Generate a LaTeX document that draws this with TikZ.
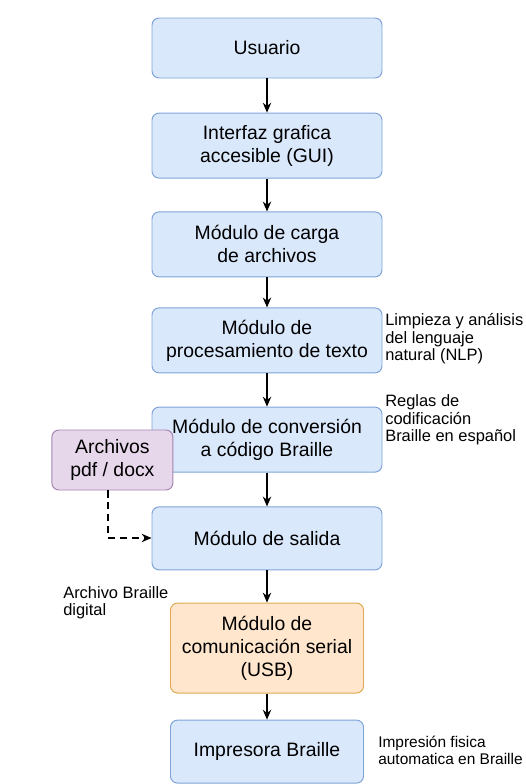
\documentclass[tikz,border=0pt]{standalone}
\usepackage{fontspec}
\setmainfont{Liberation Sans}
\definecolor{bloque}{HTML}{DAE8FC}
\definecolor{bloqueborde}{HTML}{7FA3D6}
\definecolor{naranja}{HTML}{FFE6CC}
\definecolor{naranjaborde}{HTML}{E0AA50}
\definecolor{lila}{HTML}{E6D7EA}
\definecolor{lilaborde}{HTML}{A584B3}
\usetikzlibrary{shapes, arrows.meta, positioning, calc}

\begin{document}
\begin{tikzpicture}[
		mod/.style={rectangle, rounded corners=5pt, draw=bloqueborde, fill=bloque,
			minimum width=5.75cm, minimum height=1.625cm, line width=0.7pt,
			align=center, font=\fontsize{13.8}{16.4}\selectfont},
		modb/.style={mod, minimum width=4.825cm},
		usb/.style={modb, draw=naranjaborde, fill=naranja},
		arch/.style={mod, draw=lilaborde, fill=lila, minimum width=3.025cm, minimum height=1.5cm},
		nota/.style={align=left, anchor=west, inner sep=0pt, font=\fontsize{11.7}{12.4}\selectfont},
		flecha/.style={-{Stealth[length=7pt, width=6pt]}, line width=0.75pt, black},
		punteada/.style={flecha, line width=0.85pt, dash pattern=on 5pt off 3.5pt}
		]
		\useasboundingbox (0,0) rectangle (13.125,-19.6);
		
		% Bloques
		\node[mod, minimum height=1.5cm] (usuario) at (6.675, -1.2)   {Usuario};
		\node[mod] (gui)      at (6.675, -3.64)  {Interfaz grafica\\accesible (GUI)};
		\node[mod] (carga)    at (6.675, -6.11)  {Módulo de carga\\de archivos};
		\node[mod] (proc)     at (6.675, -8.51)  {Módulo de\\procesamiento de texto};
		\node[mod] (conv)     at (6.675, -10.99) {Módulo de conversión\\a código Braille};
		\node[mod, minimum height=1.575cm] (salida) at (6.675, -13.46) {Módulo de salida};
		\node[usb, minimum height=2.25cm] (serial) at (6.675, -16.2) {Módulo de\\comunicación serial\\(USB)};
		\node[modb, minimum height=1.575cm] (impresora) at (6.675, -18.79) {Impresora Braille};
		\node[arch] (archivos) at (2.81, -11.5) {Archivos\\pdf / docx};
		
		% Flechas
		\draw[flecha] (usuario) -- (gui);
		\draw[flecha] (gui) -- (carga);
		\draw[flecha] (carga) -- (proc);
		\draw[flecha] (proc) -- (conv);
		\draw[flecha] (conv) -- (salida);
		\draw[flecha] (salida) -- (serial);
		\draw[flecha] (serial) -- (impresora);
		\coordinate (codo) at (2.7, -13.45);
		\draw[punteada] (archivos.south -| codo) -- (codo) -- (salida.west |- codo);
		
		% Notas
		\node[nota] (nlp)    at (9.625, -8.475) {Limpieza y análisis\\del lenguaje\\natural (NLP)};
		\node[nota] (reglas) at (9.625, -10.5)  {Reglas de\\codificación\\Braille en español};
		\node[nota] (digital) at (1.575, -15.075) {Archivo Braille\\digital};
		\node[nota, font=\fontsize{11}{12.2}\selectfont] (fisica) at (9.45, -18.75) {Impresión fisica\\automatica en Braille};
	\end{tikzpicture}
\end{document}
